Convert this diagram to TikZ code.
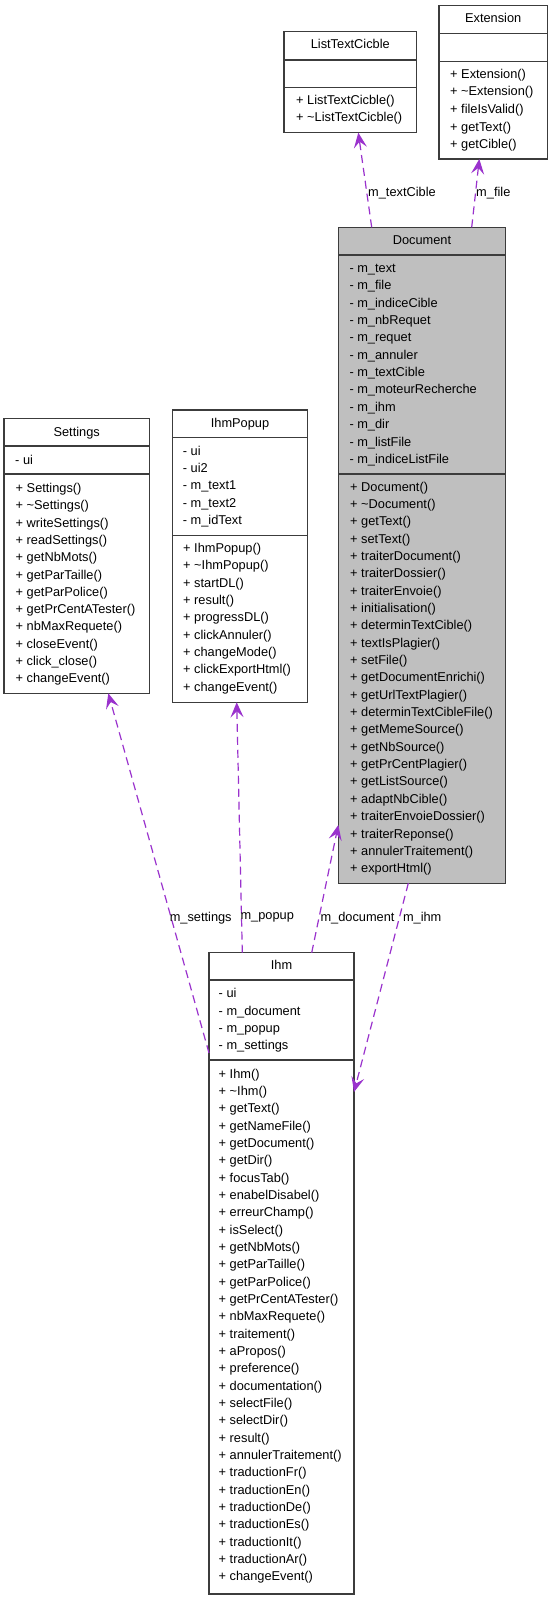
\documentclass[tikz,border=0pt]{standalone}
\usepackage{fontspec}
\setmainfont{Liberation Sans}
\usetikzlibrary{arrows.meta}
\definecolor{orch}{RGB}{154,50,205}
\definecolor{docfill}{RGB}{191,191,191}
\definecolor{boxline}{RGB}{60,60,60}
\tikzset{
 classbox/.style={draw=boxline, line width=1.2pt, anchor=north west, inner sep=0pt, outer sep=0pt},
 sepline/.style={draw=boxline, line width=1.4pt},
 row/.style={anchor=base west, inner sep=0pt, font=\fontsize{12.8}{15}\selectfont},
 ctitle/.style={anchor=base, inner sep=0pt, font=\fontsize{12.8}{15}\selectfont},
 uses/.style={draw=orch, line width=1.2pt, dash pattern=on 8pt off 5pt, -{Stealth[length=15pt,width=13pt,inset=6pt]}},
 elabel/.style={inner sep=0pt, font=\fontsize{12.8}{15}\selectfont},
}
\newcommand\classrows[5]{\foreach \t [count=\i] in {#5} {\node[row] (#1-\i) at (#2,{#3+(\i-1)*#4+4.3}) {\t};}}
\begin{document}
\begin{tikzpicture}[x=1pt,y=-1pt]
\useasboundingbox (0,0) rectangle (552,1597);
\fill[white] (0,0) rectangle (552,1597);

% ListTextCicble
\node[classbox, minimum width=132.7pt, minimum height=101pt] (ltc) at (284,31.7) {};
\draw[sepline] (ltc.west |- 0,60) -- (ltc.east |- 0,60);
\draw[sepline] (ltc.west |- 0,87.7) -- (ltc.east |- 0,87.7);
\node[ctitle] (ltc-t) at (350.3,48.3) {ListTextCicble};
\classrows{ltc-m}{296}{100}{17.33}{+ ListTextCicble(), + \textasciitilde ListTextCicble()}

% Extension
\node[classbox, minimum width=108.3pt, minimum height=153.3pt] (ext) at (439,5.7) {};
\draw[sepline] (ext.west |- 0,33.3) -- (ext.east |- 0,33.3);
\draw[sepline] (ext.west |- 0,61.7) -- (ext.east |- 0,61.7);
\node[ctitle] (ext-t) at (493.2,22.6) {Extension};
\classrows{ext-m}{450}{74}{17.6}{+ Extension(), + \textasciitilde Extension(), + fileIsValid(), + getText(), + getCible()}

% Document
\node[classbox, fill=docfill, minimum width=167.4pt, minimum height=656pt] (doc) at (338.3,227.3) {};
\draw[sepline] (doc.west |- 0,255) -- (doc.east |- 0,255);
\draw[sepline] (doc.west |- 0,474) -- (doc.east |- 0,474);
\node[ctitle] (doc-t) at (422,245) {Document};
\classrows{doc-a}{349.3}{268.3}{17.34}{- m\_text, - m\_file, - m\_indiceCible, - m\_nbRequet, - m\_requet, - m\_annuler, - m\_textCible, - m\_moteurRecherche, - m\_ihm, - m\_dir, - m\_listFile, - m\_indiceListFile}
\classrows{doc-m}{350}{486.7}{17.35}{+ Document(), + \textasciitilde Document(), + getText(), + setText(), + traiterDocument(), + traiterDossier(), + traiterEnvoie(), + initialisation(), + determinTextCible(), + textIsPlagier(), + setFile(), + getDocumentEnrichi(), + getUrlTextPlagier(), + determinTextCibleFile(), + getMemeSource(), + getNbSource(), + getPrCentPlagier(), + getListSource(), + adaptNbCible(), + traiterEnvoieDossier(), + traiterReponse(), + annulerTraitement(), + exportHtml()}

% Settings
\node[classbox, minimum width=145.3pt, minimum height=275pt] (set) at (4,418.3) {};
\draw[sepline] (set.west |- 0,446) -- (set.east |- 0,446);
\draw[sepline] (set.west |- 0,474) -- (set.east |- 0,474);
\node[ctitle] (set-t) at (76.7,436) {Settings};
\classrows{set-a}{15}{460}{17.33}{- ui}
\classrows{set-m}{15.5}{488.3}{17.28}{+ Settings(), + \textasciitilde Settings(), + writeSettings(), + readSettings(), + getNbMots(), + getParTaille(), + getParPolice(), + getPrCentATester(), + nbMaxRequete(), + closeEvent(), + click\_close(), + changeEvent()}

% IhmPopup
\node[classbox, minimum width=134.6pt, minimum height=292.3pt] (pop) at (172.7,410) {};
\draw[sepline] (pop.west |- 0,437.7) -- (pop.east |- 0,437.7);
\draw[sepline] (pop.west |- 0,535.7) -- (pop.east |- 0,535.7);
\node[ctitle] (pop-t) at (240,427.6) {IhmPopup};
\classrows{pop-a}{182.7}{451}{17.33}{- ui, - ui2, - m\_text1, - m\_text2, - m\_idText}
\classrows{pop-m}{183}{548.3}{17.33}{+ IhmPopup(), + \textasciitilde IhmPopup(), + startDL(), + result(), + progressDL(), + clickAnnuler(), + changeMode(), + clickExportHtml(), + changeEvent()}

% Ihm
\node[classbox, minimum width=145pt, minimum height=641.3pt] (ihm) at (209,952.7) {};
\draw[sepline] (ihm.west |- 0,980) -- (ihm.east |- 0,980);
\draw[sepline] (ihm.west |- 0,1060) -- (ihm.east |- 0,1060);
\node[ctitle] (ihm-t) at (281.5,969.3) {Ihm};
\classrows{ihm-a}{218.5}{993.3}{17.45}{- ui, - m\_document, - m\_popup, - m\_settings}
\classrows{ihm-m}{218.5}{1074}{17.33}{+ Ihm(), + \textasciitilde Ihm(), + getText(), + getNameFile(), + getDocument(), + getDir(), + focusTab(), + enabelDisabel(), + erreurChamp(), + isSelect(), + getNbMots(), + getParTaille(), + getParPolice(), + getPrCentATester(), + nbMaxRequete(), + traitement(), + aPropos(), + preference(), + documentation(), + selectFile(), + selectDir(), + result(), + annulerTraitement(), + traductionFr(), + traductionEn(), + traductionDe(), + traductionEs(), + traductionIt(), + traductionAr(), + changeEvent()}

% connectors
\draw[uses] (doc.north -| 371.7,0) -- (ltc.south -| 358.3,0);
\draw[uses] (doc.north -| 471.7,0) -- (ext.south -| 479.3,0);
\draw[uses] (ihm.west |- 0,1053) -- (set.south -| 108.3,0);
\draw[uses] (ihm.north -| 242.3,0) -- (pop.south -| 236.7,0);
\draw[uses] (ihm.north -| 311.7,0) -- (doc.west |- 0,825);
\draw[uses] (doc.south -| 408.3,0) -- (ihm.east |- 0,1092);

% labels
\node[elabel] (l-tc) at (402,192.7) {m\_textCible};
\node[elabel] (l-file) at (493.3,192.7) {m\_file};
\node[elabel] (l-set) at (200.7,917.7) {m\_settings};
\node[elabel] (l-pop) at (267.2,917.7) {m\_popup};
\node[elabel] (l-doc) at (357.5,917.7) {m\_document};
\node[elabel] (l-ihm) at (422.2,917.7) {m\_ihm};
\end{tikzpicture}
\end{document}
